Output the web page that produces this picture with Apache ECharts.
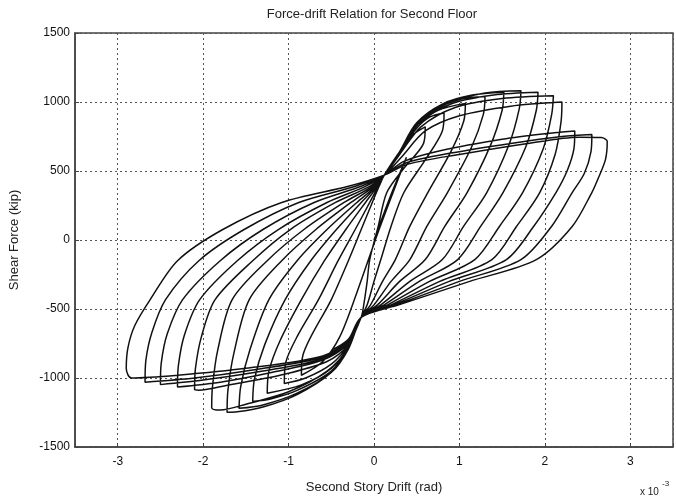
<!DOCTYPE html>
<html>
<head>
<meta charset="utf-8">
<script src="https://cdn.jsdelivr.net/npm/echarts@6/dist/echarts.min.js"></script>
<style>
  html, body { margin: 0; background: #fff; }
  #chart { width: 676px; height: 500px; }
</style>
</head>
<body>
<div id="chart"></div>
<script>
// drift in 1e-3 rad, shear force in kip, in time order
const start = [[0,0],[0.2,330],[0.38,600],[0.3,470],[0.05,60],[-0.2,-380],[-0.4,-700],[-0.6,-880],[-0.85,-980]];
const loop01 = [
  [-0.83,-830],[-0.5,-432],[-0.3,-150],[-0.15,76],[-0.02,272],[0.06,389],[0.12,470],
  [0.3,640],[0.45,760],[0.6,820],
  [0.58,700],[0.35,520],[0.15,344],[0.05,100],[-0.05,-142],[-0.08,-300],[-0.12,-470],[-0.15,-560],
  [-0.3,-760],[-0.5,-900],[-0.8,-1000],[-1.05,-1040]
];
const loop02 = [
  [-1.03,-880],[-0.9,-700],[-0.65,-432],[-0.42,-150],[-0.22,76],[-0.05,272],[0.05,389],[0.12,470],
  [0.3,640],[0.5,810],[0.65,890],[0.82,920],
  [0.8,790],[0.6,580],[0.35,344],[0.2,100],[0.08,-142],[0.0,-300],[-0.08,-470],[-0.15,-560],
  [-0.3,-770],[-0.5,-930],[-0.85,-1050],[-1.25,-1110]
];
const loop03 = [
  [-1.23,-950],[-1.1,-730],[-0.85,-432],[-0.58,-150],[-0.33,76],[-0.1,272],[0.04,389],[0.12,470],
  [0.3,640],[0.5,830],[0.75,940],[1.07,990],
  [1.05,860],[0.9,640],[0.63,344],[0.42,100],[0.25,-142],[0.1,-300],[-0.04,-470],[-0.15,-560],
  [-0.3,-780],[-0.5,-950],[-0.9,-1090],[-1.2,-1150],[-1.42,-1170]
];
const loop04 = [
  [-1.4,-1010],[-1.28,-760],[-1.04,-432],[-0.74,-150],[-0.44,76],[-0.15,272],[0.03,389],[0.12,470],
  [0.3,640],[0.5,840],[0.8,970],[1.05,1025],[1.3,1040],
  [1.28,910],[1.14,670],[0.86,344],[0.62,100],[0.42,-142],[0.2,-300],[0.0,-470],[-0.15,-560],
  [-0.3,-790],[-0.5,-960],[-0.9,-1110],[-1.3,-1195],[-1.58,-1220]
];
const loop05 = [
  [-1.56,-1060],[-1.45,-790],[-1.23,-432],[-0.9,-150],[-0.55,76],[-0.2,272],[0.02,389],[0.12,470],
  [0.3,640],[0.5,850],[0.8,985],[1.15,1050],[1.52,1070],
  [1.5,940],[1.36,680],[1.09,344],[0.83,100],[0.6,-142],[0.3,-300],[0.04,-470],[-0.15,-560],
  [-0.3,-790],[-0.5,-960],[-0.9,-1120],[-1.3,-1210],[-1.6,-1245],[-1.72,-1248]
];
const loop06 = [
  [-1.71,-1090],[-1.64,-820],[-1.46,-432],[-1.08,-150],[-0.68,76],[-0.27,272],[0.0,389],[0.12,470],
  [0.3,640],[0.5,850],[0.85,990],[1.3,1065],[1.72,1082],
  [1.7,950],[1.58,690],[1.32,344],[1.05,100],[0.8,-142],[0.42,-300],[0.08,-470],[-0.15,-560],
  [-0.3,-780],[-0.55,-950],[-1.0,-1100],[-1.5,-1190],[-1.8,-1232],[-1.9,-1215]
];
const loop07 = [
  [-1.89,-1060],[-1.83,-800],[-1.66,-432],[-1.25,-150],[-0.82,76],[-0.35,272],[-0.02,389],[0.12,470],
  [0.3,630],[0.52,840],[0.9,985],[1.4,1050],[1.92,1070],
  [1.9,940],[1.78,680],[1.51,344],[1.25,100],[0.98,-142],[0.53,-300],[0.12,-470],[-0.15,-560],
  [-0.3,-760],[-0.55,-880],[-1.1,-980],[-1.7,-1050],[-2.05,-1088],[-2.1,-1085]
];
const loop08 = [
  [-2.09,-930],[-2.02,-700],[-1.86,-432],[-1.42,-150],[-0.98,76],[-0.45,272],[-0.05,389],[0.12,470],
  [0.3,620],[0.55,820],[0.95,960],[1.5,1025],[2.1,1045],
  [2.08,910],[1.98,660],[1.74,344],[1.47,100],[1.18,-142],[0.65,-300],[0.16,-470],[-0.15,-560],
  [-0.3,-750],[-0.6,-870],[-1.2,-960],[-1.8,-1030],[-2.3,-1065]
];
const loop09 = [
  [-2.29,-910],[-2.22,-690],[-2.04,-432],[-1.6,-150],[-1.12,76],[-0.55,272],[-0.1,389],[0.12,470],
  [0.32,600],[0.6,790],[1.0,900],[1.6,970],[2.2,1000],
  [2.19,860],[2.12,620],[1.94,344],[1.67,100],[1.38,-142],[0.77,-300],[0.2,-470],[-0.15,-560],
  [-0.3,-740],[-0.6,-860],[-1.3,-950],[-2.0,-1015],[-2.5,-1048]
];
const loop10 = [
  [-2.49,-890],[-2.42,-680],[-2.24,-432],[-1.8,-150],[-1.3,76],[-0.7,272],[-0.15,389],[0.12,470],
  [0.35,570],[0.8,650],[1.5,730],[2.0,770],[2.35,790],
  [2.34,660],[2.26,500],[2.13,344],[1.87,100],[1.55,-142],[0.88,-300],[0.23,-470],[-0.15,-560],
  [-0.3,-730],[-0.6,-850],[-1.4,-940],[-2.1,-1000],[-2.68,-1030]
];
const loop11 = [
  [-2.67,-870],[-2.6,-670],[-2.44,-432],[-2.05,-150],[-1.52,76],[-0.88,272],[-0.22,389],[0.12,470],
  [0.38,560],[0.9,630],[1.6,700],[2.2,750],[2.55,765],
  [2.54,640],[2.46,480],[2.32,344],[2.08,100],[1.72,-142],[1.0,-300],[0.26,-470],[-0.15,-560],
  [-0.3,-720],[-0.6,-840],[-1.5,-930],[-2.3,-980],[-2.84,-1000],[-2.9,-930]
];
const loop12 = [
  [-2.88,-780],[-2.8,-620],[-2.62,-432],[-2.3,-150],[-1.77,76],[-1.08,272],[-0.3,389],[0.12,470],
  [0.4,550],[1.0,620],[1.8,700],[2.4,745],[2.66,742],[2.73,715],
  [2.71,584],[2.62,440],[2.55,344],[2.32,98],[1.9,-142],[1.12,-300],[0.29,-470],[-0.15,-560],
  [-0.3,-720],[-0.5,-800]
];
const yTicks = [-1500, -1000, -500, 0, 500, 1000, 1500];

const history = [].concat(start, loop01, loop02, loop03, loop04, loop05, loop06,
  loop07, loop08, loop09, loop10, loop11, loop12);

const FONT = '"Liberation Sans", Arial, Helvetica, sans-serif';
const chart = echarts.init(document.getElementById('chart'));

chart.setOption({
  animation: false,
  backgroundColor: '#fff',
  grid: {
    left: 71, right: 2, top: 33, bottom: 53,
    show: true, borderColor: '#444', borderWidth: 1.5, backgroundColor: 'transparent'
  },
  graphic: [
    { type: 'text', x: 372, y: 14,
      style: { text: 'Force-drift Relation for Second Floor', font: '13px ' + FONT, fill: '#222', align: 'center', verticalAlign: 'middle' } },
    { type: 'text', x: 640, y: 492,
      style: { text: 'x 10', font: '10px ' + FONT, fill: '#222', align: 'left', verticalAlign: 'middle' } },
    { type: 'text', x: 662, y: 484,
      style: { text: '-3', font: '8px ' + FONT, fill: '#222', align: 'left', verticalAlign: 'middle' } }
  ],
  xAxis: {
    type: 'value', min: -3.5, max: 3.5, splitNumber: 7,
    name: 'Second Story Drift (rad)', nameLocation: 'middle', nameGap: 34,
    nameTextStyle: { color: '#222', fontSize: 13, fontFamily: FONT },
    axisLine: { show: true, onZero: false, lineStyle: { color: '#444', width: 1.5 } },
    axisTick: { show: true, inside: true, length: 4, lineStyle: { color: '#444' } },
    axisLabel: {
      color: '#111', fontSize: 12, fontFamily: FONT, margin: 9,
      formatter: v => Math.abs(v - Math.round(v)) < 1e-6 ? String(Math.round(v)) : ''
    },
    splitLine: { show: true, lineStyle: { color: '#555', width: 1, type: [2, 3] } }
  },
  yAxis: {
    type: 'value', min: yTicks[0], max: yTicks[yTicks.length - 1], interval: 500,
    name: 'Shear Force (kip)', nameLocation: 'middle', nameGap: 54,
    nameTextStyle: { color: '#222', fontSize: 13, fontFamily: FONT },
    axisLine: { show: true, onZero: false, lineStyle: { color: '#444', width: 1.5 } },
    axisTick: { show: true, inside: true, length: 4, lineStyle: { color: '#444' } },
    axisLabel: { color: '#111', fontSize: 12, fontFamily: FONT, margin: 5, formatter: v => String(v) },
    splitLine: { show: true, lineStyle: { color: '#555', width: 1, type: [2, 3] } }
  },
  series: [{
    type: 'line',
    data: history,
    showSymbol: false,
    smooth: 0.3,
    lineStyle: { color: '#111', width: 1.5 },
    z: 3
  }]
});
</script>
</body>
</html>
